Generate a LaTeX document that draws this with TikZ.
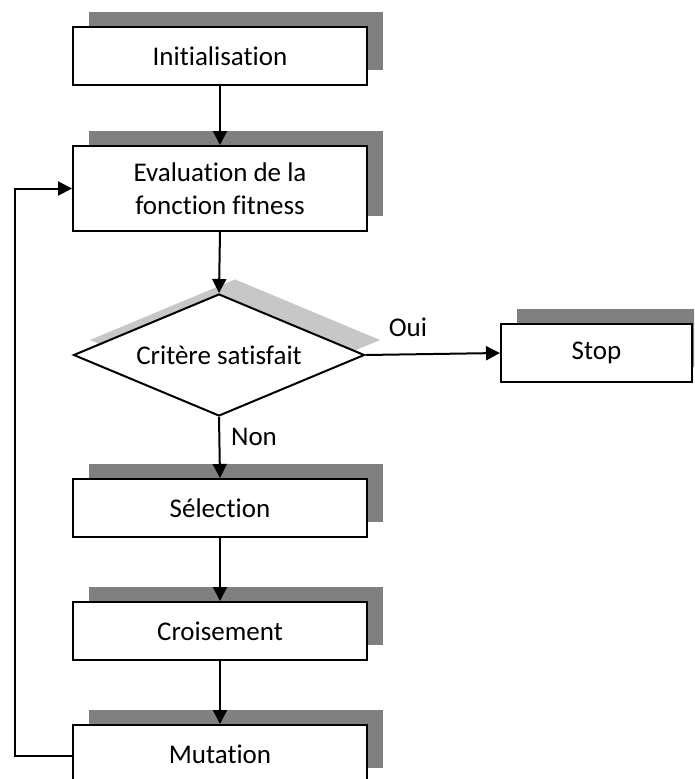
\documentclass[tikz,border=0pt]{standalone}
\usepackage{fontspec}
\setmainfont{Carlito}[Ligatures=NoCommon]
\usetikzlibrary{shapes.geometric,arrows.meta,shadows}

\tikzset{
  base/.style={font=\fontsize{27pt}{33pt}\selectfont, inner sep=0pt, line width=2pt, draw=black, fill=white},
  stepbox/.style={base, rectangle, minimum width=294pt, minimum height=58pt,
    general shadow={fill=gray, shadow xshift=16pt, shadow yshift=15pt}},
  testbox/.style={base, diamond, aspect=2.4, minimum width=291pt, minimum height=122pt,
    general shadow={fill=black!22, draw=none, shadow xshift=16pt, shadow yshift=15pt}},
  flow/.style={line width=2pt, -{Triangle[length=14pt,width=14pt]}},
  lbl/.style={font=\fontsize{27pt}{33pt}\selectfont, inner sep=0pt}
}

\begin{document}
\begin{tikzpicture}[x=1pt, y=-1pt]
  \useasboundingbox (0,0) rectangle (694,779);
  \clip (0,0) rectangle (694,779);

  % flowchart steps
  \node[stepbox] (init) at (220,56) {Initialisation};
  \node[stepbox, minimum height=85pt, align=center] (eval) at (220,188.5) {Evaluation de la\\fonction fitness};
  \node[testbox] (test) at (219,355) {Critère satisfait};
  \node[stepbox, minimum width=191pt] (stop) at (596.5,353) {Stop};
  \node[stepbox] (sel) at (220,508) {Sélection};
  \node[stepbox] (cross) at (220,631) {Croisement};
  \node[stepbox] (mut) at (220,754) {Mutation};

  % branch labels
  \node[lbl] (oui) at (408,327) {Oui};
  \node[lbl] (non) at (254,437) {Non};

  % connectors
  \draw[flow] (init.south) -- (eval.north);
  \draw[flow] (eval.south) -- (test.north);
  \draw[flow] (test.east) -- (stop.west);
  \draw[flow] (test.south) -- (sel.north);
  \draw[flow] (sel.south) -- (cross.north);
  \draw[flow] (cross.south) -- (mut.north);

  % loop back from mutation to evaluation
  \coordinate (loopbot) at (15,756);
  \coordinate (looptop) at (15,188.5);
  \draw[flow] (mut.west |- loopbot) -- (loopbot) -- (looptop) -- (eval.west);
\end{tikzpicture}
\end{document}
